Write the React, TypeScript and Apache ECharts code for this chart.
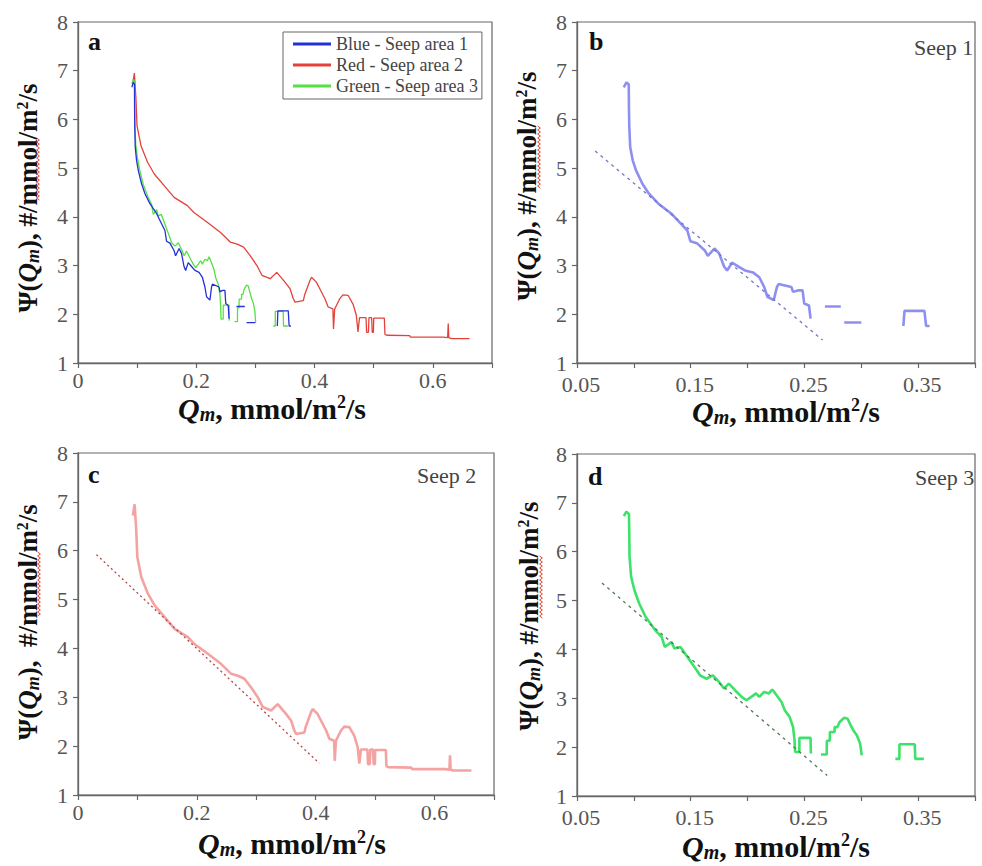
import React, { useEffect, useRef } from "react";
import * as echarts from "echarts";

// ---------- data ----------
const seep1Q = [0.0911, 0.0935, 0.0955, 0.0957, 0.096, 0.0968, 0.099, 0.1018, 0.1075, 0.1131, 0.1216, 0.1328, 0.1413, 0.147, 0.1497, 0.1554, 0.1624, 0.165, 0.1709, 0.175, 0.1793, 0.182, 0.1864, 0.192, 0.1977, 0.2047, 0.2103, 0.2146, 0.2174, 0.223, 0.2258, 0.2273, 0.2385, 0.24, 0.2442, 0.2484, 0.2498, 0.254, 0.2554, null, 0.268, 0.282, null, 0.285, 0.3, null, 0.337, 0.338, 0.3555, 0.357, 0.36];
const seep1Psi = [6.66, 6.76, 6.72, 6.2, 5.84, 5.43, 5.16, 4.96, 4.68, 4.48, 4.27, 4.07, 3.86, 3.72, 3.5, 3.46, 3.31, 3.2, 3.35, 3.25, 2.98, 2.9, 3.06, 2.98, 2.9, 2.86, 2.76, 2.56, 2.36, 2.29, 2.56, 2.62, 2.56, 2.46, 2.49, 2.49, 2.22, 2.18, 1.91, null, 2.16, 2.16, null, 1.83, 1.83, null, 1.76, 2.07, 2.07, 1.76, 1.76];

const seep2Q = [0.0924, 0.0953, 0.098, 0.0998, 0.1065, 0.1176, 0.129, 0.1457, 0.1625, 0.185, 0.196, 0.2185, 0.241, 0.2578, 0.269, 0.28, 0.2914, 0.3025, 0.311, 0.325, 0.336, 0.35, 0.3587, 0.364, 0.367, 0.381, 0.383, 0.392, 0.3948, 0.403, 0.409, 0.4175, 0.423, 0.431, 0.432, 0.434, 0.4426, 0.448, 0.4566, 0.465, 0.4706, 0.4734, 0.476, 0.487, 0.488, 0.491, 0.492, 0.4965, 0.4975, 0.4995, 0.5, 0.518, 0.519, 0.522, 0.561, 0.562, 0.617, 0.625, 0.626, 0.627, 0.631, 0.662];
const seep2Psi = [6.72, 6.95, 6.42, 5.87, 5.46, 5.12, 4.88, 4.64, 4.4, 4.23, 4.09, 3.89, 3.68, 3.48, 3.44, 3.38, 3.2, 3.0, 2.8, 2.73, 2.86, 2.66, 2.52, 2.32, 2.25, 2.28, 2.39, 2.69, 2.76, 2.66, 2.52, 2.32, 2.15, 2.11, 1.7, 2.11, 2.32, 2.4, 2.39, 2.21, 1.98, 1.64, 1.93, 1.93, 1.63, 1.63, 1.93, 1.93, 1.63, 1.63, 1.92, 1.92, 1.59, 1.57, 1.56, 1.53, 1.53, 1.52, 1.81, 1.52, 1.5, 1.5];

const seep3Q = [0.0912, 0.0934, 0.0957, 0.096, 0.0962, 0.0976, 0.1005, 0.1047, 0.1103, 0.1188, 0.1244, 0.1272, 0.133, 0.1357, 0.141, 0.147, 0.1554, 0.1582, 0.1639, 0.1695, 0.1751, 0.1793, 0.1835, 0.1892, 0.1948, 0.199, 0.2033, 0.2075, 0.2103, 0.2146, 0.2188, 0.2216, 0.2244, 0.23, 0.2328, 0.237, 0.24, 0.2413, 0.2418, 0.2455, 0.2456, 0.2554, 0.2557, null, 0.2645, 0.2696, 0.2697, 0.2723, 0.2724, 0.2765, 0.2766, 0.279, 0.2808, 0.285, 0.288, 0.2906, 0.2934, 0.2962, 0.299, 0.3004, null, 0.33, 0.3335, 0.3336, 0.347, 0.3475, 0.355];
const seep3Psi = [6.73, 6.82, 6.77, 6.3, 5.9, 5.49, 5.21, 4.94, 4.67, 4.39, 4.26, 4.05, 4.15, 4.02, 4.05, 3.85, 3.57, 3.47, 3.4, 3.47, 3.33, 3.2, 3.3, 3.16, 3.03, 2.96, 3.03, 3.1, 3.03, 3.13, 3.1, 3.18, 3.1, 2.92, 2.75, 2.62, 2.41, 2.14, 1.9, 1.9, 2.19, 2.19, 1.87, null, 1.85, 1.85, 2.13, 2.13, 2.31, 2.31, 2.41, 2.41, 2.51, 2.6, 2.58, 2.45, 2.33, 2.24, 2.07, 1.83, null, 1.76, 1.76, 2.06, 2.06, 1.76, 1.76];

const fitSeep1Q = [0.066, 0.266];
const fitSeep1Psi = [5.35, 1.47];
const fitSeep2Q = [0.031, 0.406];
const fitSeep2Psi = [5.92, 1.65];
const fitSeep3Q = [0.072, 0.27];
const fitSeep3Psi = [5.36, 1.42];

const legendNames = ["Blue - Seep area 1", "Red - Seep area 2", "Green - Seep area 3"];
const panelLetters = ["a", "b", "c", "d"];
const panelSeepLabels = ["Seep 1", "Seep 2", "Seep 3"];
const yTicks = { min: 1, max: 8, interval: 1 };

// ---------- helpers ----------
const FONT = "Liberation Serif, Times New Roman, serif";

function pairs(q: (number | null)[], p: (number | null)[]) {
  return q.map((x, i) => (x === null || p[i] === null ? ["-", "-"] : [x, p[i]]));
}

function fmtWide(v: number) {
  const k = Math.round(v * 10);
  if (k % 2 !== 0 || k > 6) return "";
  return k === 0 ? "0" : String(k / 10);
}
function fmtNarrow(v: number) {
  const k = Math.round(v * 100);
  return k % 10 === 5 ? (k / 100).toFixed(2) : "";
}

function xAxis(grid: number, wide: boolean) {
  return {
    gridIndex: grid,
    type: "value",
    min: wide ? 0 : 0.05,
    max: wide ? 0.7 : 0.4,
    interval: wide ? 0.1 : 0.05,
    axisLine: { show: true, onZero: false, lineStyle: { color: "#666", width: 1.3 } },
    axisTick: { show: true, length: 5, lineStyle: { color: "#666", width: 1.2 } },
    splitLine: { show: false },
    axisLabel: {
      formatter: wide ? fmtWide : fmtNarrow,
      fontFamily: FONT,
      fontSize: 22,
      lineHeight: 18,
      color: "#555",
      margin: wide ? 8 : 12,
      padding: wide ? [0, 0, 0, 0] : [0, 0, 0, 8],
    },
  };
}
function yAxis(grid: number) {
  return {
    gridIndex: grid,
    type: "value",
    min: yTicks.min,
    max: yTicks.max,
    interval: yTicks.interval,
    axisLine: { show: true, onZero: false, lineStyle: { color: "#666", width: 1.3 } },
    axisTick: { show: true, length: 5, lineStyle: { color: "#666", width: 1.2 } },
    splitLine: { show: false },
    axisLabel: { fontFamily: FONT, fontSize: 22, lineHeight: 18, color: "#555", margin: 10 },
  };
}

function lineSeries(name: string, idx: number, data: any[], color: string, width: number, dashed?: number[]) {
  return {
    name,
    type: "line",
    xAxisIndex: idx,
    yAxisIndex: idx,
    data,
    showSymbol: false,
    symbol: "none",
    connectNulls: false,
    color,
    itemStyle: { color },
    lineStyle: { color, width, type: dashed ? dashed : "solid" },
    z: dashed ? 3 : 2,
    silent: true,
  };
}

const xRich = {
  qi: { fontFamily: FONT, fontSize: 30, fontWeight: "bold", fontStyle: "italic" },
  sub: { fontFamily: FONT, fontSize: 20, fontWeight: "bold", fontStyle: "italic", padding: [12, 0, 0, 0] },
  n: { fontFamily: FONT, fontSize: 30, fontWeight: "bold" },
  sup: { fontFamily: FONT, fontSize: 18, fontWeight: "bold", padding: [0, 0, 12, 0] },
};
const yRich = {
  qi: { fontFamily: FONT, fontSize: 27, fontWeight: "bold", fontStyle: "italic" },
  sub: { fontFamily: FONT, fontSize: 18, fontWeight: "bold", fontStyle: "italic", padding: [10, 0, 0, 0] },
  n: { fontFamily: FONT, fontSize: 27, fontWeight: "bold" },
  sup: { fontFamily: FONT, fontSize: 16, fontWeight: "bold", padding: [0, 0, 11, 0] },
};

function xTitle(cx: number, cy: number) {
  return {
    type: "text",
    x: cx,
    y: cy,
    style: {
      text: "{qi|Q}{sub|m}{n|, mmol/m}{sup|2}{n|/s}",
      rich: xRich,
      align: "center",
      verticalAlign: "middle",
      fill: "#111",
      fontFamily: FONT,
      fontSize: 30,
      fontWeight: "bold",
    },
  };
}
function yTitle(cx: number, cy: number, gap: string) {
  return {
    type: "text",
    x: cx,
    y: cy,
    rotation: Math.PI / 2,
    style: {
      text: "{n|Ψ(}{qi|Q}{sub|m}{n|)," + gap + "#/mmol/m}{sup|2}{n|/s}",
      rich: yRich,
      align: "center",
      verticalAlign: "middle",
      fill: "#111",
      fontFamily: FONT,
      fontSize: 27,
      fontWeight: "bold",
    },
  };
}
function plainText(text: string, x: number, y: number, size: number, bold: boolean, fill: string) {
  return {
    type: "text",
    x,
    y,
    style: { text, fontFamily: FONT, fontSize: size, fontWeight: bold ? "bold" : "normal", fill, align: "left", verticalAlign: "middle" },
  };
}
function wavy(x: number, y0: number, y1: number) {
  const pts: number[][] = [];
  let i = 0;
  for (let y = y0; y <= y1; y += 2, i++) pts.push([x + (i % 2 ? 1.4 : -1.4), y]);
  return {
    type: "polyline",
    shape: { points: pts },
    style: { stroke: "#e8452f", lineWidth: 1, fill: null },
    silent: true,
  };
}

export default function App() {
  const ref = useRef<HTMLDivElement>(null);
  useEffect(() => {
    if (!ref.current) return;
    const chart = echarts.init(ref.current, undefined, { renderer: "svg" });
    const option: any = {
      animation: false,
      backgroundColor: "#fff",
      textStyle: { fontFamily: FONT },
      grid: [
        { left: 78, top: 22, width: 414, height: 341, show: true, borderColor: "#666", borderWidth: 1.2, backgroundColor: "transparent" },
        { left: 577, top: 22, width: 414, height: 341, show: true, borderColor: "#666", borderWidth: 1.2, backgroundColor: "transparent" },
        { left: 78, top: 453, width: 416, height: 342, show: true, borderColor: "#666", borderWidth: 1.2, backgroundColor: "transparent" },
        { left: 577, top: 454, width: 414, height: 342, show: true, borderColor: "#666", borderWidth: 1.2, backgroundColor: "transparent" },
      ],
      xAxis: [xAxis(0, true), xAxis(1, false), xAxis(2, true), xAxis(3, false)],
      yAxis: [yAxis(0), yAxis(1), yAxis(2), yAxis(3)],
      legend: {
        data: legendNames,
        orient: "vertical",
        left: 283,
        top: 32,
        icon: "rect",
        itemWidth: 38,
        itemHeight: 3,
        itemGap: 3,
        padding: [3, 4, 4, 10],
        borderColor: "#666",
        borderWidth: 1,
        selectedMode: false,
        textStyle: { fontFamily: FONT, fontSize: 18, color: "#444" },
      },
      series: [
        lineSeries(legendNames[1], 0, pairs(seep2Q, seep2Psi), "#e5413b", 1.3),
        lineSeries(legendNames[2], 0, pairs(seep3Q, seep3Psi), "#55e045", 1.3),
        lineSeries(legendNames[0], 0, pairs(seep1Q, seep1Psi), "#2232d8", 1.3),
        lineSeries("Seep 1 data", 1, pairs(seep1Q, seep1Psi), "#8f8ff2", 2.6),
        lineSeries("Seep 1 fit", 1, pairs(fitSeep1Q, fitSeep1Psi), "#7474c4", 1.3, [3, 4]),
        lineSeries("Seep 2 data", 2, pairs(seep2Q, seep2Psi), "#f4a3a3", 2.6),
        lineSeries("Seep 2 fit", 2, pairs(fitSeep2Q, fitSeep2Psi), "#b84545", 1.3, [2, 3]),
        lineSeries("Seep 3 data", 3, pairs(seep3Q, seep3Psi), "#3ee26a", 2.6),
        lineSeries("Seep 3 fit", 3, pairs(fitSeep3Q, fitSeep3Psi), "#4d7a55", 1.3, [3, 4]),
      ],
      graphic: [
        xTitle(272, 408),
        xTitle(786, 411),
        xTitle(292, 843),
        xTitle(776, 846),
        yTitle(28, 198, " "),
        yTitle(527, 186, " "),
        yTitle(28, 622, "  "),
        yTitle(529, 616, " "),
        wavy(38, 138, 200),
        wavy(539, 126, 188),
        wavy(39, 552, 617),
        wavy(541, 556, 618),
        plainText(panelLetters[0], 88, 41, 26, true, "#111"),
        plainText(panelLetters[1], 589, 41, 26, true, "#111"),
        plainText(panelLetters[2], 88, 474, 26, true, "#111"),
        plainText(panelLetters[3], 588, 476, 26, true, "#111"),
        plainText(panelSeepLabels[0], 914, 47.5, 22, false, "#444"),
        plainText(panelSeepLabels[1], 417, 475.5, 22, false, "#444"),
        plainText(panelSeepLabels[2], 915, 477.5, 22, false, "#444"),
      ],
    };
    chart.setOption(option);
    return () => chart.dispose();
  }, []);
  return (
    <div
      ref={ref}
      style={{ position: "absolute", left: 0, top: 0, width: 982, height: 866, background: "#fff" }}
    />
  );
}
